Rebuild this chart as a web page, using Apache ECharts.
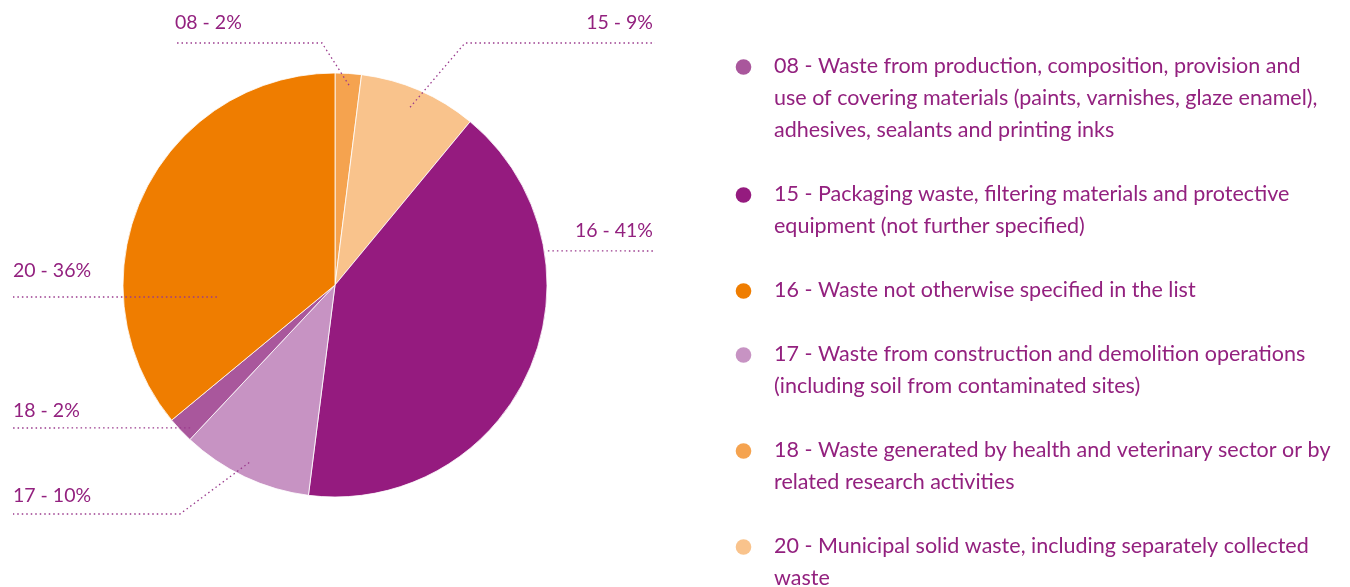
<!DOCTYPE html>
<html>
<head>
<meta charset="utf-8">
<script src="https://cdn.jsdelivr.net/npm/echarts@6/dist/echarts.min.js"></script>
<style>
  html, body { margin: 0; padding: 0; background: #ffffff; }
  #chart { width: 1350px; height: 587px; }
</style>
</head>
<body>
<div id="chart"></div>
<script>
// EWC chapter codes and their share of the total waste (%)
const codes = ['08', '15', '16', '17', '18', '20'];
const shares = [2, 9, 41, 10, 2, 36];

// slice fills, in the same order as codes
const sliceColors = ['#f5a34f', '#f9c38c', '#951b7f', '#c793c3', '#a9579c', '#ef7d00'];

// key on the right: bullet colours and wrapped descriptions
const keyColors = ['#a9579c', '#951b7f', '#ef7d00', '#c793c3', '#f5a34f', '#f9c38c'];
const keyLines = [
  ['08 - Waste from production, composition, provision and',
   'use of covering materials (paints, varnishes, glaze enamel),',
   'adhesives, sealants and printing inks'],
  ['15 - Packaging waste, filtering materials and protective',
   'equipment (not further specified)'],
  ['16 - Waste not otherwise specified in the list'],
  ['17 - Waste from construction and demolition operations',
   '(including soil from contaminated sites)'],
  ['18 - Waste generated by health and veterinary sector or by',
   'related research activities'],
  ['20 - Municipal solid waste, including separately collected',
   'waste']
];

const TEXT_COLOR = '#93217f';
const FONT = 'Lato, "Open Sans", sans-serif';
const PIE_CENTER = [335, 285];
const PIE_RADIUS = 212;

// where each slice label sits (same order as codes) and how its dotted leader runs:
// start = [angle clockwise from 12 o'clock, fraction of radius]
const labelPlacement = [
  { x: 175, y: 23,  align: 'left',  start: [4.0, 0.945],  path: [[322, 43], [175, 43]] },
  { x: 653, y: 23,  align: 'right', start: [22.9, 0.91],  path: [[465, 43], [655, 43]] },
  { x: 653, y: 231, align: 'right', start: [80.9, 1.017], path: [[655, 251]] },
  { x: 13,  y: 496, align: 'left',  start: [205.8, 0.93], path: [[180, 514], [13, 514]] },
  { x: 13,  y: 411, align: 'left',  start: [225.4, 0.96], path: [[13, 428]] },
  { x: 13,  y: 271, align: 'left',  start: [264.2, 0.56], path: [[13, 297]] }
];

function polarPoint(angleDeg, frac) {
  const a = angleDeg * Math.PI / 180;
  const r = PIE_RADIUS * frac;
  return [PIE_CENTER[0] + r * Math.sin(a), PIE_CENTER[1] - r * Math.cos(a)];
}

// key built as bullets plus wrapped text, stacked with a fixed line height
const LINE_H = 32;
const keyGraphics = [];
let rowY = 66;
keyLines.forEach(function (lines, i) {
  keyGraphics.push({
    type: 'circle',
    shape: { cx: 743.5, cy: rowY + 1, r: 7.8 },
    style: { fill: keyColors[i] },
    silent: true
  });
  keyGraphics.push({
    type: 'text',
    x: 774,
    y: rowY - LINE_H / 2,
    style: {
      text: lines.join('\n'),
      fill: TEXT_COLOR,
      font: '21.5px ' + FONT,
      lineHeight: LINE_H,
      verticalAlign: 'top',
      align: 'left'
    },
    silent: true
  });
  rowY += lines.length * LINE_H + LINE_H;
});

const pieData = codes.map(function (c, i) {
  return { name: c, value: shares[i], itemStyle: { color: sliceColors[i] } };
});

const chart = echarts.init(document.getElementById('chart'), null, { renderer: 'canvas' });

chart.setOption({
  animation: false,
  backgroundColor: '#ffffff',
  graphic: keyGraphics,
  series: [
    {
      // the slices
      type: 'pie',
      z: 2,
      center: PIE_CENTER,
      radius: PIE_RADIUS,
      startAngle: 90,
      clockwise: true,
      silent: true,
      itemStyle: { borderColor: '#ffffff', borderWidth: 0.8 },
      label: { show: false },
      labelLine: { show: false },
      data: pieData,
      emphasis: { disabled: true }
    },
    {
      // labels with dotted leaders, drawn over the slices
      type: 'pie',
      z: 3,
      center: PIE_CENTER,
      radius: PIE_RADIUS,
      startAngle: 90,
      clockwise: true,
      silent: true,
      avoidLabelOverlap: false,
      itemStyle: { color: 'rgba(0,0,0,0)', borderWidth: 0 },
      data: codes.map(function (c, i) { return { name: c, value: shares[i] }; }),
      label: {
        show: true,
        position: 'outside',
        color: TEXT_COLOR,
        fontFamily: FONT,
        fontSize: 19.5,
        formatter: function (p) { return codes[p.dataIndex] + ' - ' + p.value + '%'; }
      },
      labelLine: {
        show: true,
        smooth: false,
        lineStyle: { color: '#9a3a8d', width: 1.3, type: [1.5, 3] }
      },
      labelLayout: function (p) {
        const L = labelPlacement[p.dataIndex];
        const s = polarPoint(L.start[0], L.start[1]);
        let pts = [s].concat(L.path);
        if (pts.length === 2) {
          const e = pts[1];
          pts = [s, [(s[0] + e[0]) / 2, (s[1] + e[1]) / 2], e];
        }
        return {
          x: L.x,
          y: L.y,
          align: L.align,
          verticalAlign: 'middle',
          labelLinePoints: pts,
          hideOverlap: false
        };
      },
      emphasis: { disabled: true }
    }
  ]
});
</script>
</body>
</html>
